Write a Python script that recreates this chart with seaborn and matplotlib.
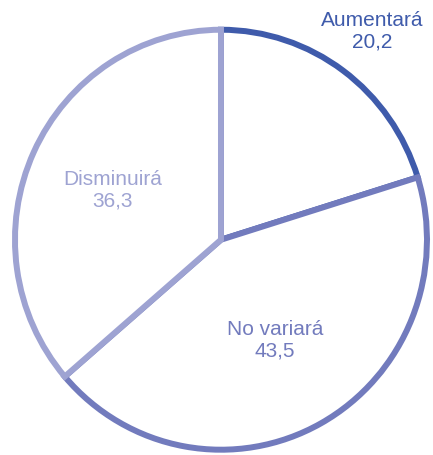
import numpy as np
import matplotlib
matplotlib.use("Agg")
import matplotlib.pyplot as plt
import seaborn as sns

categories = ["Aumentará", "No variará", "Disminuirá"]
values = [20.2, 43.5, 36.3]
value_labels = ["20,2", "43,5", "36,3"]
colors = ["#3f5bab", "#727bbd", "#9ea3d2"]

sns.set_theme(style="white")
plt.rcParams["font.family"] = ["Liberation Sans", "DejaVu Sans"]

fig = plt.figure(figsize=(4.33, 4.56), dpi=100)
ax = fig.add_axes([0.0346, 0.0116, 0.9515, 0.921])

wedges, _ = ax.pie(
    values,
    startangle=90,
    counterclock=False,
    colors=["white"] * len(values),
    radius=1.0,
    wedgeprops=dict(linewidth=4.3, joinstyle="miter"),
)
for w, c in zip(wedges, colors):
    w.set_edgecolor(c)
    w.set_clip_on(False)

# label placement: distance from the centre (in radii) for each slice
label_dist = [1.24, 0.54, 0.58]
for w, name, vl, c, d in zip(wedges, categories, value_labels, colors, label_dist):
    mid = np.deg2rad((w.theta1 + w.theta2) / 2)
    x, y = d * np.cos(mid), d * np.sin(mid)
    ax.text(x, y, f"{name}\n{vl}", ha="center", va="center",
            color=c, fontsize=15, linespacing=1.15, clip_on=False)

ax.set_xlim(-1, 1)
ax.set_ylim(-1, 1)
ax.set_aspect("auto")
ax.axis("off")

fig.savefig("out.png", dpi=100, facecolor="white")
